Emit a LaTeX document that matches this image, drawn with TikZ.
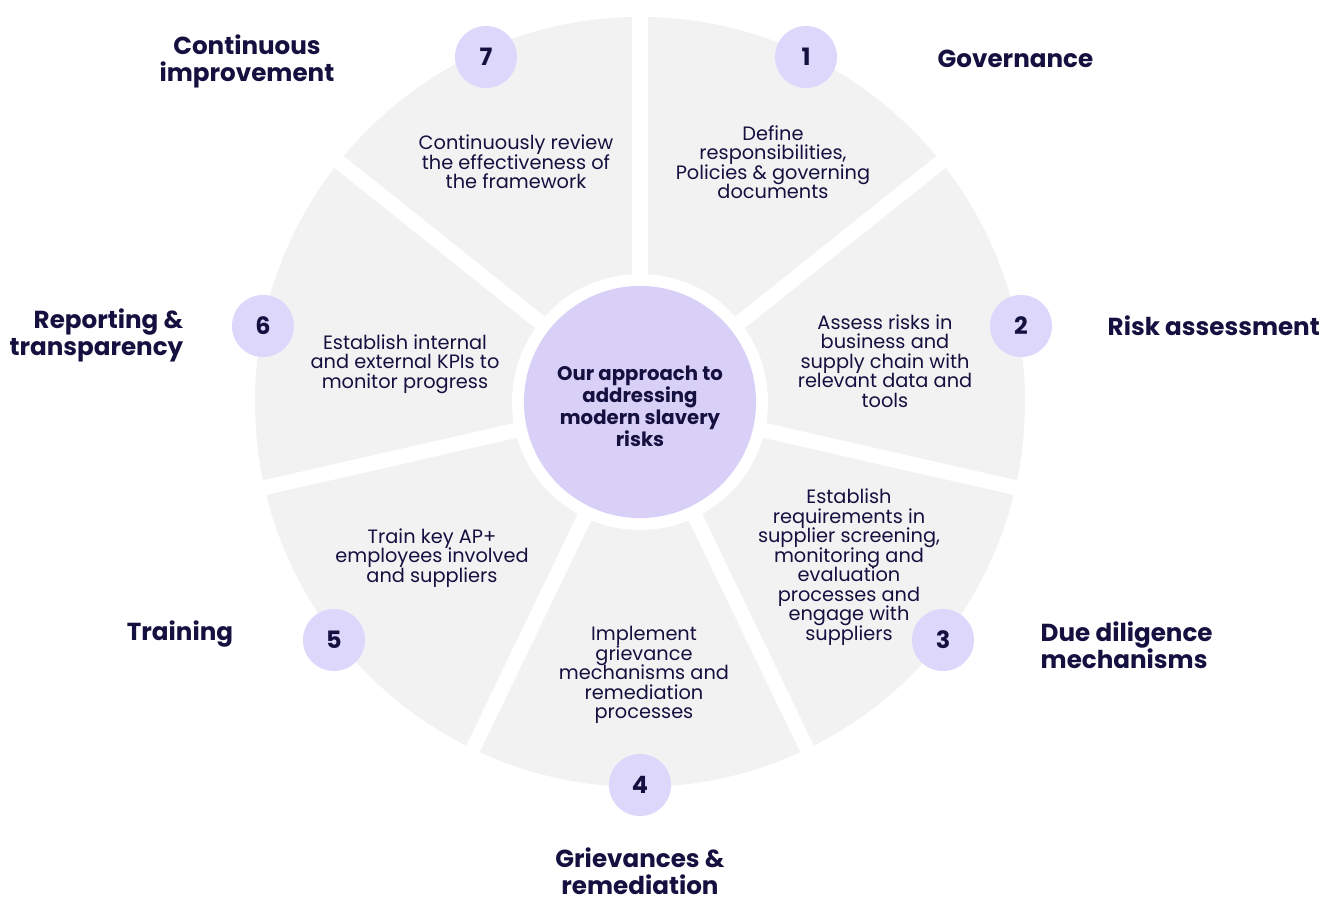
\documentclass[tikz,border=0pt]{standalone}
\usepackage{fontspec}
\setmainfont{Poppins}
\usepackage{tikz}

\definecolor{wheelgray}{HTML}{F2F2F2}
\definecolor{hublilac}{HTML}{D8D0F6}
\definecolor{numlilac}{HTML}{DDD7FB}
\definecolor{ink}{HTML}{14103F}

% tight lines: keep the baseline distance fixed
\lineskiplimit=-\maxdimen

\tikzset{
	steptext/.style={align=center, text=ink, inner sep=0pt, font=\fontsize{5.5}{5.55}\selectfont},
	stepnum/.style={circle, fill=numlilac, minimum size=0.62cm, inner sep=0pt, text=ink, font=\fontsize{6.8}{8}\selectfont\bfseries},
	steplabel/.style={text=ink, inner sep=0pt, font=\fontsize{7}{7.7}\selectfont\bfseries},
}

\begin{document}
\begin{tikzpicture}[x=0.01cm, y=0.01cm]
		\useasboundingbox (-640, 402) rectangle (681, -498);
		% wheel with seven slices
		\fill[wheelgray] (0, 0) circle[radius=385];
		\foreach \a in {0,...,6} {
			\draw[white, line width=0.15cm] (0, 0) -- ({90-\a*360/7}:400);
		}
		\fill[white] (0, 0) circle[radius=128];
		\node[circle, fill=hublilac, minimum size=2.32cm, inner sep=0pt] (hub) at (0, 0) {};
		\node[align=center, text=ink, inner sep=0pt, font=\fontsize{5.6}{6.25}\selectfont\bfseries]
			(hubtext) at (0, -4) {Our approach to\\addressing\\modern slavery\\risks};
		% numbers on the rim
		\foreach \k/\x/\y in {1/166/345, 2/381/76, 3/303/-238, 4/0/-383, 5/-306/-238, 6/-377/76, 7/-154/345} {
			\node[stepnum] (num\k) at (\x, \y) {\k};
		}
		% text inside the slices
		\node[steptext] (text1) at (133, 240) {Define\\responsibilities,\\Policies \& governing\\documents};
		\node[steptext] (text2) at (245, 41) {Assess risks in\\business and\\supply chain with\\relevant data and\\tools};
		\node[steptext] (text3) at (209, -165) {Establish\\requirements in\\supplier screening,\\monitoring and\\evaluation\\processes and\\engage with\\suppliers};
		\node[steptext] (text4) at (4, -273) {Implement\\grievance\\mechanisms and\\remediation\\processes};
		\node[steptext] (text5) at (-208, -156) {Train key AP+\\employees involved\\and suppliers};
		\node[steptext] (text6) at (-235, 38) {Establish internal\\and external KPIs to\\monitor progress};
		\node[steptext] (text7) at (-124, 240) {Continuously review\\the effectiveness of\\the framework};
		% titles around the wheel
		\node[steplabel, anchor=west] (governance) at (297, 343) {Governance};
		\node[steplabel, anchor=west] (risk) at (467, 76) {Risk assessment};
		\node[steplabel, anchor=west, align=left] (diligence) at (400, -243) {Due diligence\\mechanisms};
		\node[steplabel, align=center] (grievances) at (0, -469) {Grievances \&\\remediation};
		\node[steplabel] (training) at (-460, -232) {Training};
		\node[steplabel, anchor=east, align=right] (reporting) at (-456, 67) {Reporting \&\\transparency};
		\node[steplabel, align=center] (improvement) at (-393, 341) {Continuous\\improvement};
	\end{tikzpicture}
\end{document}
